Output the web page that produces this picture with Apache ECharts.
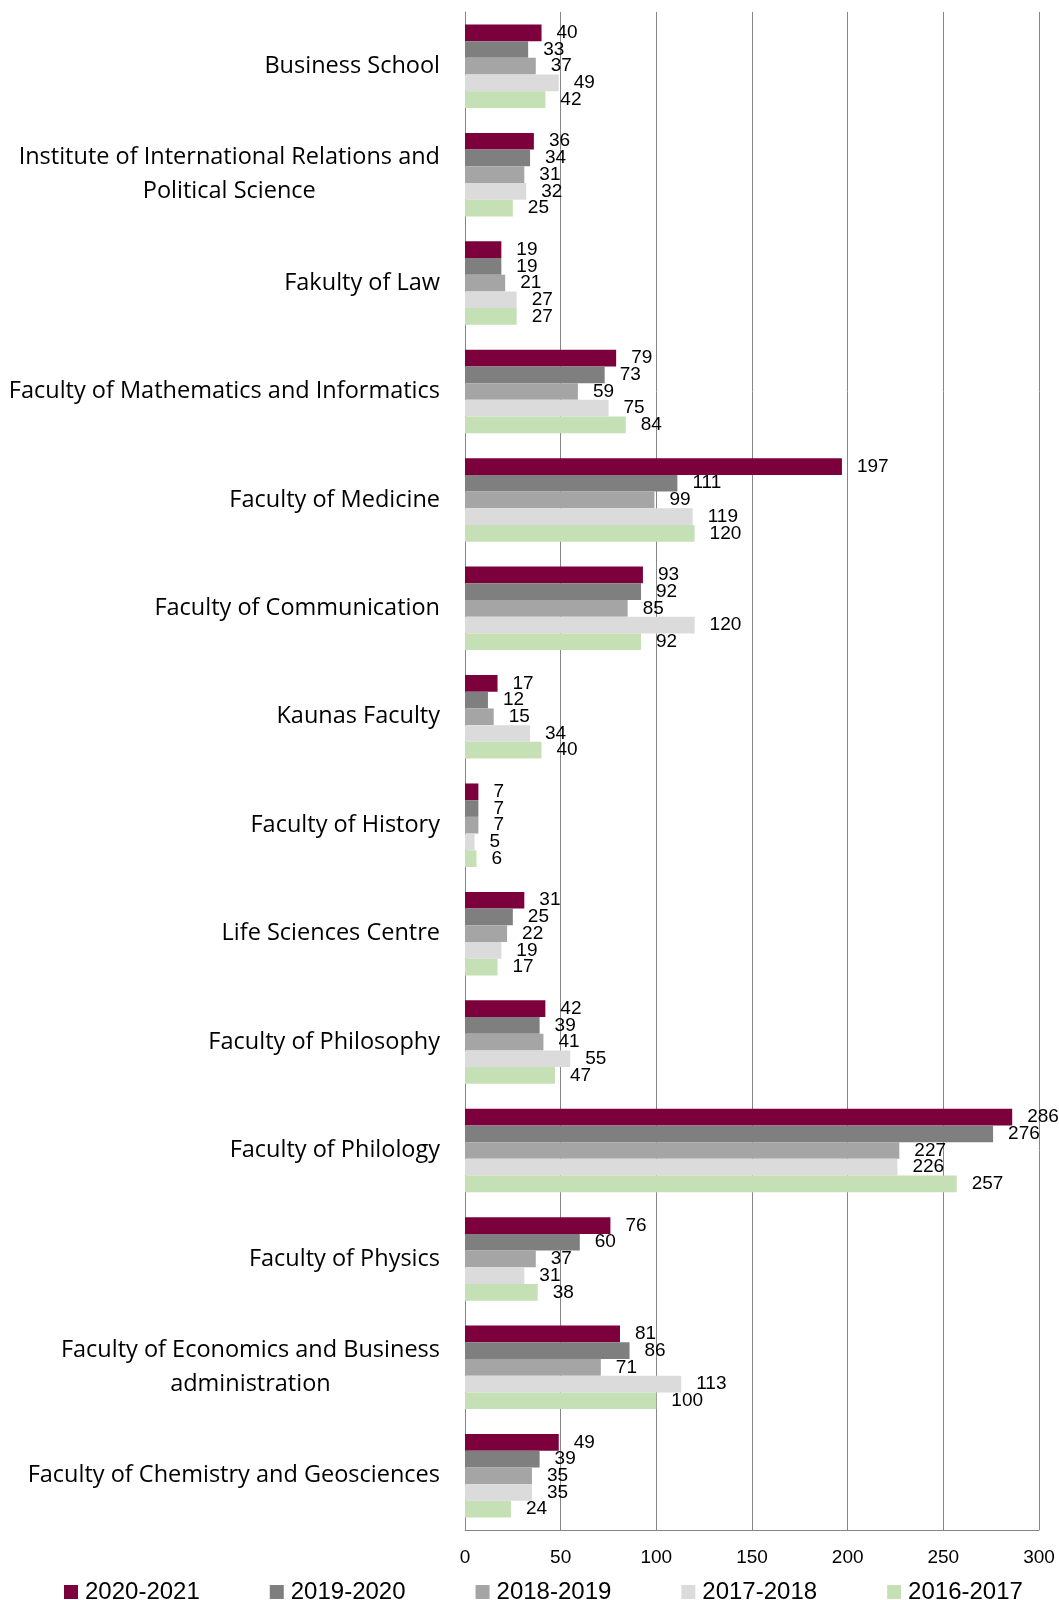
<!DOCTYPE html>
<html>
<head>
<meta charset="utf-8">
<script src="https://cdn.jsdelivr.net/npm/echarts@6/dist/echarts.min.js"></script>
<style>
  html, body { margin: 0; padding: 0; background: #fff; }
  #chart { width: 1059px; height: 1600px; }
</style>
</head>
<body>
<div id="chart"></div>
<script>
// faculties, top to bottom
const categories = [
  'Business School',
  'Institute of International Relations and\nPolitical Science',
  'Fakulty of Law',
  'Faculty of Mathematics and Informatics',
  'Faculty of Medicine',
  'Faculty of Communication',
  'Kaunas Faculty',
  'Faculty of History',
  'Life Sciences Centre',
  'Faculty of Philosophy',
  'Faculty of Philology',
  'Faculty of Physics',
  'Faculty of Economics and Business\nadministration',
  'Faculty of Chemistry and Geosciences'
];

const years = ['2020-2021', '2019-2020', '2018-2019', '2017-2018', '2016-2017'];

const y2020_2021 = [40, 36, 19, 79, 197, 93, 17, 7, 31, 42, 286, 76, 81, 49];
const y2019_2020 = [33, 34, 19, 73, 111, 92, 12, 7, 25, 39, 276, 60, 86, 39];
const y2018_2019 = [37, 31, 21, 59, 99, 85, 15, 7, 22, 41, 227, 37, 71, 35];
const y2017_2018 = [49, 32, 27, 75, 119, 120, 34, 5, 19, 55, 226, 31, 113, 35];
const y2016_2017 = [42, 25, 27, 84, 120, 92, 40, 6, 17, 47, 257, 38, 100, 24];

const xTicks = [0, 50, 100, 150, 200, 250, 300];

const colors = ['#7b003c', '#7f7f7f', '#a5a5a5', '#dbdbdb', '#c5e0b4'];
const seriesData = [y2020_2021, y2019_2020, y2018_2019, y2017_2018, y2016_2017];

const myChart = echarts.init(document.getElementById('chart'));

const option = {
  animation: false,
  color: colors,
  grid: {
    left: 465,
    right: 20,
    top: 12,
    bottom: 70
  },
  legend: {
    data: years,
    left: 59,
    top: 1575,
    itemWidth: 14,
    itemHeight: 14,
    itemGap: 70,
    icon: 'rect',
    textStyle: {
      fontFamily: 'Liberation Sans',
      fontSize: 24,
      color: '#000',
      padding: [0, 0, 0, 2]
    }
  },
  xAxis: {
    type: 'value',
    min: xTicks[0],
    max: xTicks[xTicks.length - 1],
    interval: 50,
    axisLine: { show: true, lineStyle: { color: '#868686', width: 1 } },
    axisTick: { show: false },
    splitLine: { show: true, lineStyle: { color: '#868686', width: 1 } },
    axisLabel: {
      margin: 18,
      fontFamily: 'Liberation Sans',
      fontSize: 19,
      color: '#000'
    }
  },
  yAxis: {
    type: 'category',
    inverse: true,
    data: categories,
    axisLine: { show: true, lineStyle: { color: '#868686', width: 1 } },
    axisTick: { show: false },
    axisLabel: {
      margin: 25,
      fontFamily: 'Open Sans',
      fontSize: 23.5,
      color: '#000',
      lineHeight: 34,
      formatter: function (v) {
        return v.split('\n').map(function (s) { return '{c|' + s + '}'; }).join('\n');
      },
      rich: {
        c: {
          align: 'center',
          fontFamily: 'Open Sans',
          fontSize: 23.5,
          lineHeight: 34,
          color: '#000'
        }
      }
    }
  },
  series: years.map(function (name, i) {
    return {
      name: name,
      type: 'bar',
      data: seriesData[i],
      barGap: '0%',
      barCategoryGap: '23%',
      itemStyle: { color: colors[i] },
      label: {
        show: true,
        position: 'right',
        distance: 15,
        fontFamily: 'Liberation Sans',
        fontSize: 19,
        color: '#000'
      }
    };
  })
};

myChart.setOption(option);
</script>
</body>
</html>
